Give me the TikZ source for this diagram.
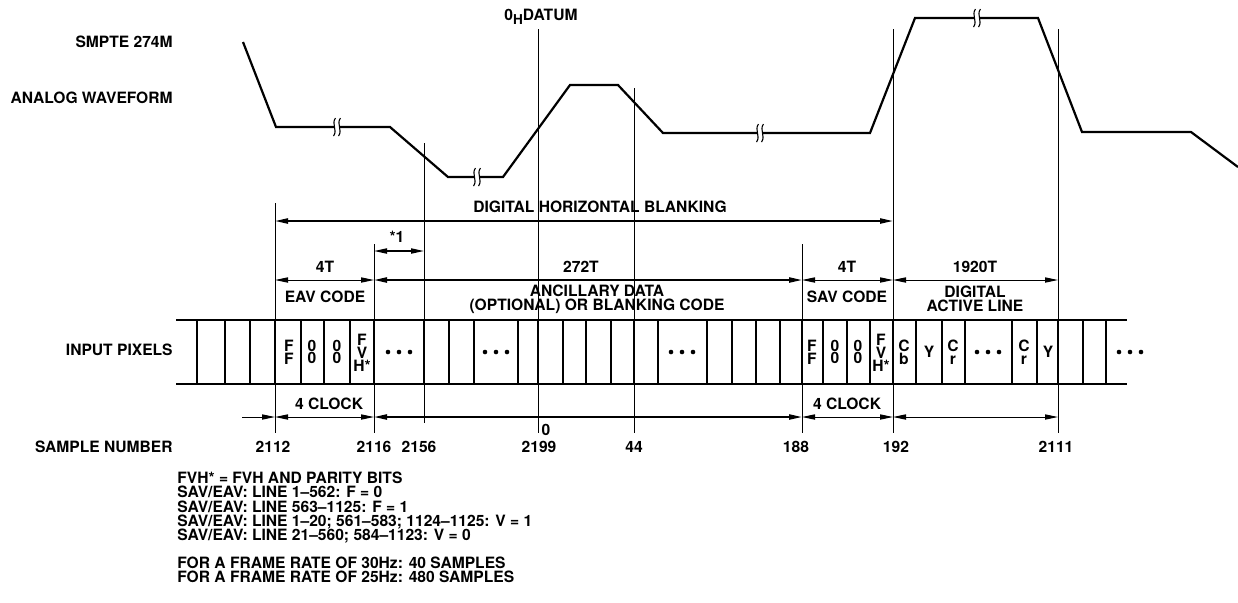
\documentclass[tikz,border=0pt]{standalone}
\usepackage{fontspec}
\setmainfont{TeX Gyre Heros}
\usetikzlibrary{arrows.meta}
\begin{document}
\begin{tikzpicture}[x=0.5pt,y=-0.5pt,
  every node/.style={font=\fontsize{7.8}{8.6}\selectfont\bfseries, inner sep=0pt},
  guide/.style={line width=0.5pt},
  wave/.style={line width=1.1pt, line join=miter},
  cellline/.style={line width=1pt},
  dim/.style={line width=0.5pt, {Triangle[length=6.5pt,width=2.6pt]}-{Triangle[length=6.5pt,width=2.6pt]}},
  dimbold/.style={dim, line width=0.85pt},
  onearrow/.style={line width=0.5pt, -{Triangle[length=6.5pt,width=2.6pt]}},
  celltext/.style={align=center},
  lbl/.style={anchor=east},
  note/.style={anchor=base west},
  brk/.pic={
    \fill[white] (-2.6,-4) rectangle (2.6,4);
    \draw[line width=0.55pt] (-1.5,-9) .. controls (-6,-3) and (1,3) .. (-3.5,9);
    \draw[line width=0.55pt] (3.5,-9) .. controls (-1,-3) and (6,3) .. (1.5,9);
  },
  dots/.pic={
    \fill (-11,0) circle[radius=1.15pt];
    \fill (0,0) circle[radius=1.15pt];
    \fill (11,0) circle[radius=1.15pt];
  }
]
\useasboundingbox (0,0) rectangle (1238,602);

% ---- vertical guide positions
\coordinate (g2112) at (275,0);
\coordinate (g2116) at (374,0);
\coordinate (g2156) at (424,0);
\coordinate (g2199) at (538,0);
\coordinate (g44)   at (634,0);
\coordinate (g188)  at (802,0);
\coordinate (g192)  at (893,0);
\coordinate (g2111) at (1058,0);
\coordinate (yBot) at (0,433);
\coordinate (yDHB) at (0,221);
\coordinate (yStar) at (0,251);
\coordinate (yT) at (0,280);
\coordinate (yClk) at (0,417);

% ---- guide lines
\draw[guide] (g2112 |- 0,203) -- (g2112 |- yBot);
\draw[guide] (g2116 |- 0,244) -- (g2116 |- yBot);
\draw[guide] (g2156 |- 0,143) -- (g2156 |- 0,423);
\draw[guide] (g2199 |- 0,29)  -- (g2199 |- yBot);
\draw[guide] (g44   |- 0,88)  -- (g44   |- yBot);
\draw[guide] (g188  |- 0,244) -- (g188  |- yBot);
\draw[guide] (g192  |- 0,29)  -- (g192  |- yBot);
\draw[guide] (g2111 |- 0,29)  -- (g2111 |- yBot);

% ---- waveform
\draw[wave] (243,42) -- (276,127) -- (390,127) -- (448,177) -- (503,177)
  -- (570,85) -- (618,85) -- (663,133) -- (870,133) -- (915,18) -- (1038,18)
  -- (1082,132) -- (1191,132) -- (1238,167);
\pic at (337,127) {brk};
\pic at (477,177) {brk};
\pic at (760,133) {brk};
\pic at (977,18) {brk};

\node (datum) at (541,17) {0\raisebox{-2.2pt}{\fontsize{6.8}{7}\selectfont H}DATUM};

% ---- left labels
\node[lbl] (smpte) at (173,42) {SMPTE 274M};
\node[lbl] (analog) at (173,98) {ANALOG WAVEFORM};
\node[lbl] (inpix) at (173,350) {INPUT PIXELS};
\node[lbl] (sampno) at (173,447) {SAMPLE NUMBER};

% ---- dimension arrows
\draw[dimbold] (g2112 |- yDHB) -- (g192 |- yDHB);
\node (dhb) at (600,207) {DIGITAL HORIZONTAL BLANKING};
\draw[dim, line width=0.65pt] (g2116 |- yStar) -- (g2156 |- yStar);
\node (star1) at (397,237) {*1};

\draw[dim] (g2112 |- yT) -- (g2116 |- yT);
\draw[dimbold] (g2116 |- yT) -- (g188 |- yT);
\draw[dim] (g188 |- yT) -- (g192 |- yT);
\draw[dim] (g192 |- yT) -- (g2111 |- yT);
\node (t4a) at (325,267) {4T};
\node (t272) at (581,267) {272T};
\node (t4b) at (847,267) {4T};
\node (t1920) at (975,267) {1920T};
\node (eav) at (325,297) {EAV CODE};
\node[align=center] (anc) at (597,299) {ANCILLARY DATA\\[-1.6pt](OPTIONAL) OR BLANKING CODE};
\node (sav) at (847,297) {SAV CODE};
\node[align=center] (dal) at (975,299) {DIGITAL\\[-1.6pt]ACTIVE LINE};

% ---- pixel row
\draw[cellline] (176,320) -- (1127,320);
\draw[cellline] (176,384) -- (1127,384);
\foreach \x in {197,225,250,275,301,324,350,374,424,449,474,518,538,563,586,611,634,658,707,732,756,780,802,823,847,870,893,916,942,965,1012,1037,1058,1083,1106}
  \draw[cellline] (\x,320) -- (\x,384);

\node[celltext] (e1) at (289,352) {F\\[-2.2pt]F};
\node[celltext] (e2) at (312,352) {0\\[-2.2pt]0};
\node[celltext] (e3) at (337,352) {0\\[-2.2pt]0};
\node[celltext] (e4) at (362,353) {F\\[-2.2pt]V\\[-2.2pt]H*};
\pic at (399,352) {dots};
\pic at (496,352) {dots};
\pic at (682,352) {dots};
\node[celltext] (s1) at (812,352) {F\\[-2.2pt]F};
\node[celltext] (s2) at (835,352) {0\\[-2.2pt]0};
\node[celltext] (s3) at (858,352) {0\\[-2.2pt]0};
\node[celltext] (s4) at (881,353) {F\\[-2.2pt]V\\[-2.2pt]H*};
\node[celltext] (cb) at (904,352) {C\\[-2.2pt]b};
\node[celltext] (y1) at (929,352) {Y};
\node[celltext] (cr1) at (953,352) {C\\[-2.2pt]r};
\pic at (988,352) {dots};
\node[celltext] (cr2) at (1024,352) {C\\[-2.2pt]r};
\node[celltext] (y2) at (1048,352) {Y};
\pic at (1130,352) {dots};

% ---- clock arrows
\coordinate (inA) at (242,417);
\draw[onearrow] (inA) -- (g2112 |- yClk);
\draw[dim] (g2112 |- yClk) -- (g2116 |- yClk);
\draw[dimbold] (g2116 |- yClk) -- (g188 |- yClk);
\draw[dim] (g188 |- yClk) -- (g192 |- yClk);
\draw[dim] (g192 |- yClk) -- (g2111 |- yClk);
\node (clk1) at (329,404) {4 CLOCK};
\node (clk2) at (847,404) {4 CLOCK};

% ---- sample numbers
\node (n2112) at (273,447) {2112};
\node (n2116) at (374,447) {2116};
\node (n2156) at (419,447) {2156};
\node (n2199) at (539,447) {2199};
\node (n0) at (546,430) {0};
\node (n44) at (634,447) {44};
\node (n188) at (796,447) {188};
\node (n192) at (896,447) {192};
\node (n2111) at (1056,447) {2111};

% ---- notes
\node[note] (nt1) at (177,483.5) {FVH* = FVH AND PARITY BITS};
\node[note] (nt2) at (177,497.75) {SAV/EAV: LINE 1–562: F = 0};
\node[note] (nt3) at (177,512) {SAV/EAV: LINE 563–1125: F = 1};
\node[note] (nt4) at (177,526.25) {SAV/EAV: LINE 1–20; 561–583; 1124–1125: V = 1};
\node[note] (nt5) at (177,540.5) {SAV/EAV: LINE 21–560; 584–1123: V = 0};
\node[note] (nt6) at (177,568.5) {FOR A FRAME RATE OF 30Hz: 40 SAMPLES};
\node[note] (nt7) at (177,582.75) {FOR A FRAME RATE OF 25Hz: 480 SAMPLES};
\end{tikzpicture}
\end{document}
